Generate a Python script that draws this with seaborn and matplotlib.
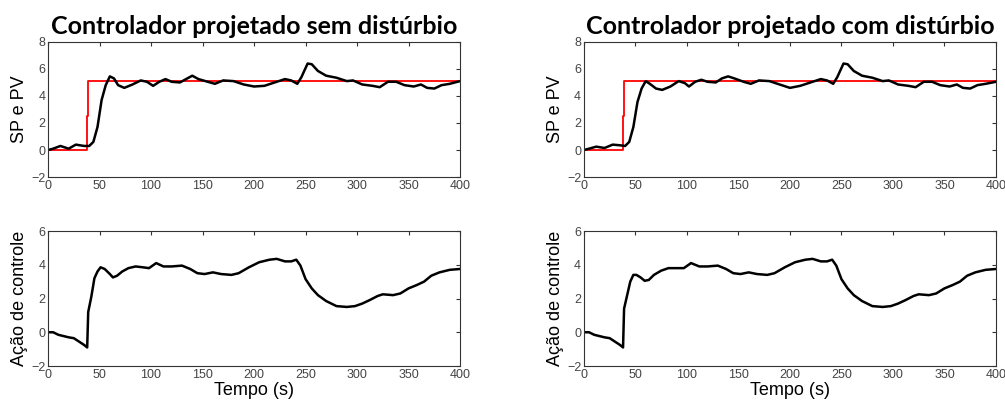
import pandas as pd
import seaborn as sns
import matplotlib.pyplot as plt

# Setpoint (same for both cases)
sp_t = [0, 38, 38, 39, 39, 400]
sp_v = [0, 0, 2.5, 2.5, 5.1, 5.1]

# Process variable - sem distúrbio
pv1_t = [0, 5, 12, 20, 27, 35, 40, 44, 48, 52, 56, 60, 64, 68, 74, 82, 90, 96, 102, 108,
         114, 120, 128, 134, 140, 146, 155, 162, 170, 180, 190, 200, 210, 220, 230, 236,
         242, 246, 252, 256, 262, 270, 280, 290, 296, 305, 315, 322, 330, 338, 346, 355,
         362, 368, 375, 382, 390, 400]
pv1_v = [0, 0.1, 0.3, 0.1, 0.4, 0.3, 0.3, 0.6, 1.7, 3.7, 4.8, 5.45, 5.3, 4.8, 4.6, 4.85,
         5.15, 5.05, 4.75, 5.05, 5.25, 5.05, 5.0, 5.25, 5.5, 5.25, 5.05, 4.9, 5.15, 5.1,
         4.85, 4.7, 4.75, 5.0, 5.25, 5.15, 4.9, 5.4, 6.4, 6.35, 5.85, 5.5, 5.35, 5.1, 5.15,
         4.85, 4.75, 4.65, 5.05, 5.05, 4.8, 4.7, 4.85, 4.6, 4.55, 4.8, 4.9, 5.1]

# Process variable - com distúrbio
pv2_t = [0, 5, 12, 20, 28, 35, 40, 44, 48, 52, 56, 60, 64, 70, 76, 84, 92, 98, 102, 108,
         114, 120, 128, 134, 140, 146, 155, 162, 170, 180, 190, 200, 210, 220, 230, 236,
         242, 246, 252, 256, 262, 270, 280, 290, 296, 305, 315, 322, 330, 338, 346, 355,
         362, 368, 375, 382, 390, 400]
pv2_v = [0, 0.1, 0.25, 0.15, 0.4, 0.35, 0.3, 0.6, 1.7, 3.55, 4.55, 5.1, 4.9, 4.55, 4.45,
         4.7, 5.1, 4.95, 4.7, 5.05, 5.2, 5.05, 5.0, 5.3, 5.45, 5.3, 5.05, 4.9, 5.15, 5.1,
         4.85, 4.6, 4.75, 5.0, 5.25, 5.15, 4.9, 5.4, 6.4, 6.35, 5.85, 5.5, 5.35, 5.1, 5.15,
         4.85, 4.75, 4.65, 5.05, 5.05, 4.8, 4.7, 4.85, 4.6, 4.55, 4.8, 4.9, 5.05]

# Control action - sem distúrbio
u1_t = [0, 5, 10, 20, 25, 30, 35, 38, 39, 42, 45, 48, 51, 55, 60, 63, 67, 72, 78, 85, 92,
        98, 105, 112, 120, 130, 138, 145, 152, 160, 168, 178, 185, 195, 205, 215, 222, 230,
        236, 241, 245, 250, 256, 262, 270, 280, 290, 298, 305, 312, 320, 325, 335, 342,
        350, 358, 365, 372, 380, 390, 400]
u1_v = [0, 0, -0.15, -0.3, -0.35, -0.55, -0.75, -0.9, 1.2, 2.1, 3.2, 3.6, 3.85, 3.75,
        3.45, 3.25, 3.35, 3.6, 3.8, 3.9, 3.85, 3.8, 4.1, 3.9, 3.9, 3.95, 3.75, 3.5, 3.45,
        3.55, 3.45, 3.4, 3.5, 3.85, 4.15, 4.3, 4.35, 4.2, 4.2, 4.3, 3.95, 3.15, 2.6, 2.2,
        1.85, 1.55, 1.5, 1.55, 1.7, 1.9, 2.15, 2.25, 2.2, 2.3, 2.6, 2.8, 3.0, 3.35, 3.55,
        3.7, 3.75]

# Control action - com distúrbio
u2_t = [0, 5, 10, 20, 25, 30, 35, 38, 39, 42, 45, 48, 51, 55, 59, 63, 68, 75, 82, 92, 97,
        104, 112, 120, 130, 138, 145, 152, 160, 168, 178, 185, 195, 205, 215, 222, 230,
        236, 241, 245, 250, 256, 262, 270, 280, 290, 298, 305, 312, 320, 325, 335, 342,
        350, 358, 365, 372, 380, 390, 400]
u2_v = [0, 0, -0.15, -0.3, -0.35, -0.55, -0.75, -0.9, 1.4, 2.2, 3.0, 3.4, 3.4, 3.25, 3.05,
        3.1, 3.4, 3.65, 3.8, 3.8, 3.8, 4.1, 3.9, 3.9, 3.95, 3.75, 3.5, 3.45, 3.55, 3.45,
        3.4, 3.5, 3.85, 4.15, 4.3, 4.35, 4.2, 4.2, 4.3, 3.95, 3.15, 2.6, 2.2, 1.85, 1.55,
        1.5, 1.55, 1.7, 1.9, 2.15, 2.25, 2.2, 2.3, 2.6, 2.8, 3.0, 3.35, 3.55, 3.7, 3.75]

titles = ["Controlador projetado sem distúrbio", "Controlador projetado com distúrbio"]

sns.set_style("white")
plt.rcParams["font.family"] = ["Liberation Sans", "DejaVu Sans"]

fig = plt.figure(figsize=(10.05, 4.07), dpi=100)
lefts = [0.0478, 0.581]
pvs = [(pv1_t, pv1_v), (pv2_t, pv2_v)]
us = [(u1_t, u1_v), (u2_t, u2_v)]
sp_df = pd.DataFrame({"t": sp_t, "v": sp_v})


def style_axes(ax, ylim, yticks):
    ax.set_xlim(0, 400)
    ax.set_ylim(*ylim)
    ax.set_xticks(range(0, 401, 50))
    ax.set_yticks(yticks)
    ax.tick_params(direction="in", length=3, width=0.8, top=True, right=True,
                   labelsize=9, labelcolor="#444444", color="#333333", pad=2)
    for s in ax.spines.values():
        s.set_color("#333333")
        s.set_linewidth(0.8)
        s.set_visible(True)


for i in range(2):
    ax1 = fig.add_axes([lefts[i], 0.565, 0.41, 0.332])
    pv_df = pd.DataFrame({"t": pvs[i][0], "v": pvs[i][1]})
    sns.lineplot(data=sp_df, x="t", y="v", ax=ax1, color="#ff0000", linewidth=1.3,
                 estimator=None, sort=False)
    sns.lineplot(data=pv_df, x="t", y="v", ax=ax1, color="black", linewidth=1.8,
                 estimator=None, sort=False)
    style_axes(ax1, (-2, 8), range(-2, 9, 2))
    ax1.set_xlabel("")
    ax1.set_ylabel("SP e PV", fontsize=13, labelpad=2, color="black")
    ax1.set_title(titles[i], family=["Lato", "DejaVu Sans"], fontweight="bold",
                  fontsize=18, pad=6, color="black")

    ax2 = fig.add_axes([lefts[i], 0.1007, 0.41, 0.3317])
    u_df = pd.DataFrame({"t": us[i][0], "v": us[i][1]})
    sns.lineplot(data=u_df, x="t", y="v", ax=ax2, color="black", linewidth=1.8,
                 estimator=None, sort=False)
    style_axes(ax2, (-2, 6), range(-2, 7, 2))
    ax2.set_xlabel("Tempo (s)", fontsize=13, labelpad=1, color="black")
    ax2.set_ylabel("Ação de controle", fontsize=13, labelpad=2, color="black")

plt.savefig("out.png", dpi=100)
